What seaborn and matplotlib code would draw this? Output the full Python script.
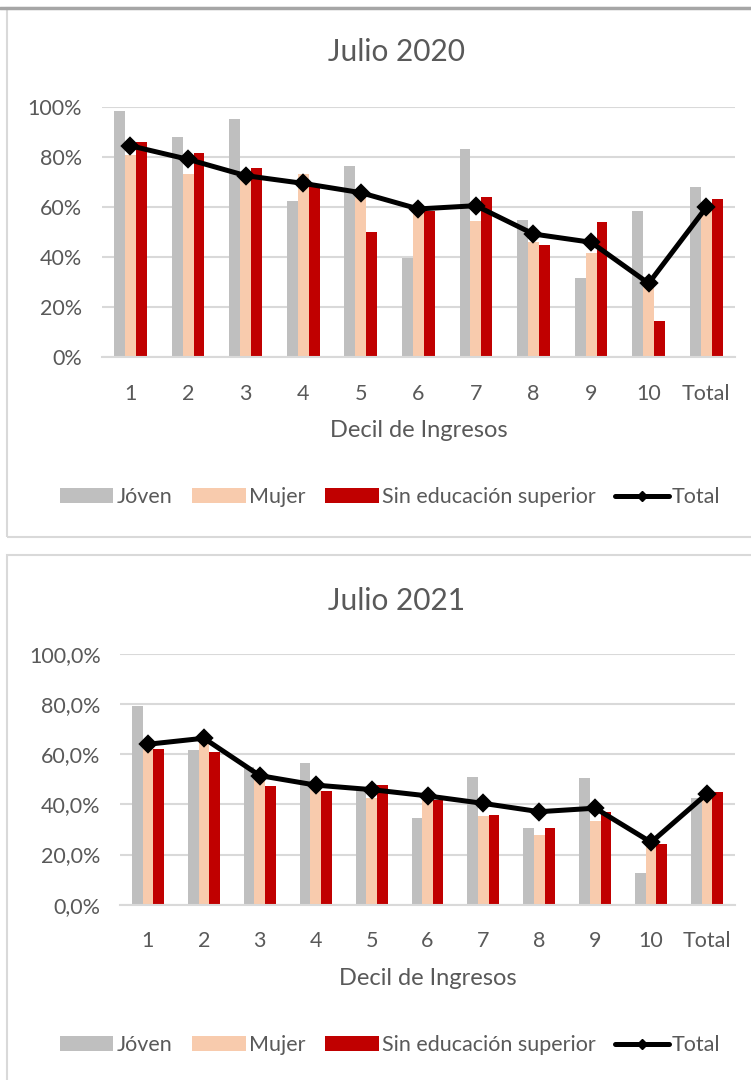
import numpy as np
import pandas as pd
import matplotlib
matplotlib.use("Agg")
import matplotlib.pyplot as plt
import matplotlib.ticker as mticker
from matplotlib.patches import Rectangle, Patch
from matplotlib.lines import Line2D
import seaborn as sns

# data (share, in %)
deciles = ["1", "2", "3", "4", "5", "6", "7", "8", "9", "10", "Total"]
series = ["Jóven", "Mujer", "Sin educación superior"]

joven_2020 = [98.4, 87.8, 95.0, 62.5, 76.5, 39.5, 83.1, 54.8, 31.5, 58.4, 68.1]
mujer_2020 = [80.7, 73.3, 72.7, 73.1, 64.0, 58.3, 54.4, 45.9, 41.6, 28.2, 58.8]
sined_2020 = [85.8, 81.5, 75.4, 69.0, 50.0, 58.5, 63.8, 44.8, 53.9, 14.6, 63.0]
total_2020 = [84.4, 79.0, 72.5, 69.4, 65.7, 59.2, 60.5, 49.2, 45.9, 29.5, 59.8]

joven_2021 = [79.3, 61.8, 55.0, 56.4, 45.7, 34.7, 51.1, 30.6, 50.5, 12.5, 42.7]
mujer_2021 = [63.0, 66.0, 49.7, 46.4, 42.4, 41.8, 35.5, 27.8, 33.5, 23.1, 43.8]
sined_2021 = [62.1, 60.8, 47.5, 45.5, 47.7, 41.6, 35.9, 30.6, 36.9, 24.3, 45.0]
total_2021 = [64.0, 66.4, 51.5, 47.7, 45.9, 43.4, 40.4, 37.1, 38.5, 24.9, 44.3]

colors = ["#BFBFBF", "#F8CBAD", "#C00000"]
txt = "#595959"
grid = "#D9D9D9"

sns.set_theme(style="white")
plt.rcParams["font.family"] = ["Lato", "DejaVu Sans"]

fig = plt.figure(figsize=(7.51, 10.8), dpi=100)


def px(x, y):
    return x / 751, 1 - y / 1080


def panel(ax, vals, total, title, tick_fmt, title_y):
    df = pd.DataFrame({
        "decil": deciles * 3,
        "serie": np.repeat(series, len(deciles)),
        "valor": vals[0] + vals[1] + vals[2],
    })
    sns.barplot(data=df, x="decil", y="valor", hue="serie", hue_order=series,
                order=deciles, palette=colors, width=0.57, saturation=1,
                ax=ax, legend=False, linewidth=0)
    sns.pointplot(x=deciles, y=total, order=deciles, color="black", markers="D",
                  linestyles="-", markersize=7.5, linewidth=3.6, ax=ax)
    ax.set_ylim(0, 100)
    ax.set_yticks(np.arange(0, 101, 20))
    ax.yaxis.set_major_formatter(mticker.FuncFormatter(tick_fmt))
    ax.grid(axis="y", color=grid, linewidth=1.5)
    ax.set_axisbelow(True)
    for s in ["top", "right", "left"]:
        ax.spines[s].set_visible(False)
    ax.spines["bottom"].set_color(grid)
    ax.spines["bottom"].set_linewidth(1.5)
    ax.tick_params(axis="both", length=0, labelsize=15.5, colors=txt)
    ax.tick_params(axis="y", pad=14)
    ax.tick_params(axis="x", pad=19)
    ax.set_ylabel("")
    ax.set_xlabel("Decil de Ingresos", fontsize=17, color=txt, labelpad=12)
    fig.text(397 / 751, 1 - title_y / 1080, title, ha="center", va="center",
             fontsize=21.5, color=txt)


# panel frames
fig.patches.append(Rectangle(px(7, 537), 760 / 751, 529 / 1080, transform=fig.transFigure,
                             fill=False, edgecolor=grid, linewidth=1.5))
fig.lines.append(Line2D([0, 1], [1 - 8 / 1080] * 2, transform=fig.transFigure,
                        color="#A6A6A6", linewidth=2.5))
fig.patches.append(Rectangle(px(7, 1090), 760 / 751, 535 / 1080, transform=fig.transFigure,
                             fill=False, edgecolor=grid, linewidth=1.5))

ax1 = fig.add_axes([101.7 / 751, 1 - 357.3 / 1080, 633.3 / 751, 250.6 / 1080])
panel(ax1, [joven_2020, mujer_2020, sined_2020], total_2020, "Julio 2020",
      lambda v, p: f"{v:.0f}%", 52)

ax2 = fig.add_axes([120 / 751, 1 - 904.7 / 1080, 615 / 751, 250.7 / 1080])
panel(ax2, [joven_2021, mujer_2021, sined_2021], total_2021, "Julio 2021",
      lambda v, p: f"{v:.1f}%".replace(".", ","), 601)

handles = [Patch(facecolor=c, edgecolor="none") for c in colors]
handles.append(Line2D([], [], color="black", linewidth=3.6, marker="D", markersize=5))
labels = series + ["Total"]
for ly in [497, 1045]:
    fig.legend(handles, labels, loc="center", bbox_to_anchor=(390 / 751, 1 - ly / 1080),
               ncol=4, frameon=False, fontsize=15.5, labelcolor=txt,
               handlelength=2.5, handleheight=0.65, handletextpad=0.15,
               columnspacing=0.9)

fig.savefig("out.png", dpi=100)
